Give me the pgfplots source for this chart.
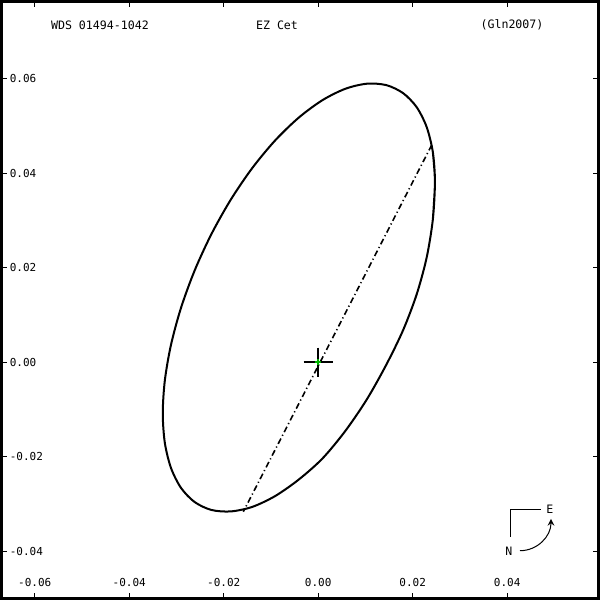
\documentclass[border=0pt]{standalone}
\usepackage{pgfplots}
\pgfplotsset{compat=1.18}
\usepackage{fontspec}
\setmainfont{DejaVu Sans Mono}
\begin{document}
\begin{tikzpicture}
\useasboundingbox (-0.7pt,-0.7pt) rectangle (299.3pt,299.3pt);
\begin{axis}[
  scale only axis,
  width=298.6pt, height=298.6pt,
  xmin=-0.06705, xmax=0.05934,
  ymin=-0.05001, ymax=0.07638,
  scaled ticks=false,
  axis line style={line width=1.4pt},
  tick align=inside,
  major tick length=3pt,
  every tick/.style={black, line width=0.6pt},
  xtick pos=both, ytick pos=both,
  xticklabel pos=lower, yticklabel pos=left,
  xtick={-0.06,-0.04,-0.02,0,0.02,0.04},
  xticklabels={-0.06,-0.04,-0.02,0.00,0.02,0.04},
  ytick={-0.04,-0.02,0,0.02,0.04,0.06},
  yticklabels={-0.04,-0.02,0.00,0.02,0.04,0.06},
  xticklabel style={anchor=base, inner sep=0pt, yshift=5.8pt, font=\fontsize{5.5}{6}\selectfont},
  yticklabel style={anchor=west, inner sep=0pt, xshift=4pt, font=\fontsize{5.5}{6}\selectfont},
  clip=true,
]
% orbit
\addplot[black, line width=1pt, smooth] coordinates {
(0.02426,0.03024)
(0.02470,0.03822) (0.02426,0.04447) (0.02296,0.04977) (0.02084,0.05399)
(0.01796,0.05697) (0.01441,0.05866) (0.01030,0.05896) (0.00575,0.05789)
(0.00090,0.05548) (-0.00410,0.05180) (-0.00910,0.04697) (-0.01395,0.04112)
(-0.01850,0.03443) (-0.02261,0.02712) (-0.02616,0.01941) (-0.02904,0.01152)
(-0.03116,0.00370) (-0.03246,-0.00383) (-0.03290,-0.01082) (-0.03246,-0.01706)
(-0.03116,-0.02236) (-0.02904,-0.02658) (-0.02616,-0.02957) (-0.02261,-0.03125)
(-0.01850,-0.03156) (-0.01395,-0.03060) (-0.00910,-0.02830) (-0.00410,-0.02480)
(0.00090,-0.02036) (0.00575,-0.01451) (0.01030,-0.00783) (0.01441,-0.00051)
(0.01796,0.00679) (0.02084,0.01439) (0.02296,0.02221) (0.02426,0.03024)
(0.02470,0.03822) (0.02426,0.04447)
};
% line of nodes
\addplot[black, line width=0.8pt, dash pattern=on 3pt off 1.5pt on 0.6pt off 1.5pt] coordinates {(0.02402,0.04599) (-0.01585,-0.03162)};
% primary
\addplot[black, only marks, mark=+, mark size=7.3pt, mark options={line width=1.2pt}] coordinates {(0,0)};
\addplot[green!70!black, only marks, mark=+, mark size=1.5pt, mark options={line width=0.8pt}] coordinates {(0,0)};
% titles
\node[font=\fontsize{5.8}{6}\selectfont] at (rel axis cs:0.165,0.9605) {WDS 01494-1042};
\node[font=\fontsize{5.8}{6}\selectfont] at (rel axis cs:0.4615,0.9605) {EZ Cet};
\node[font=\fontsize{5.8}{6}\selectfont] at (rel axis cs:0.855,0.9605) {(Gln2007)};
% compass
\draw[black, line width=0.5pt] (rel axis cs:0.9031,0.1495) -- (rel axis cs:0.8528,0.1495) -- (rel axis cs:0.8528,0.1036);
\node[font=\fontsize{5.8}{6}\selectfont] at (rel axis cs:0.9186,0.1494) {E};
\node[font=\fontsize{5.8}{6}\selectfont] at (rel axis cs:0.8499,0.0797) {N};
\draw[black, line width=0.5pt, ->, >=stealth] (rel axis cs:0.8684,0.0802) to[out=0, in=-90] (rel axis cs:0.9203,0.1334);
\end{axis}
\end{tikzpicture}
\end{document}
